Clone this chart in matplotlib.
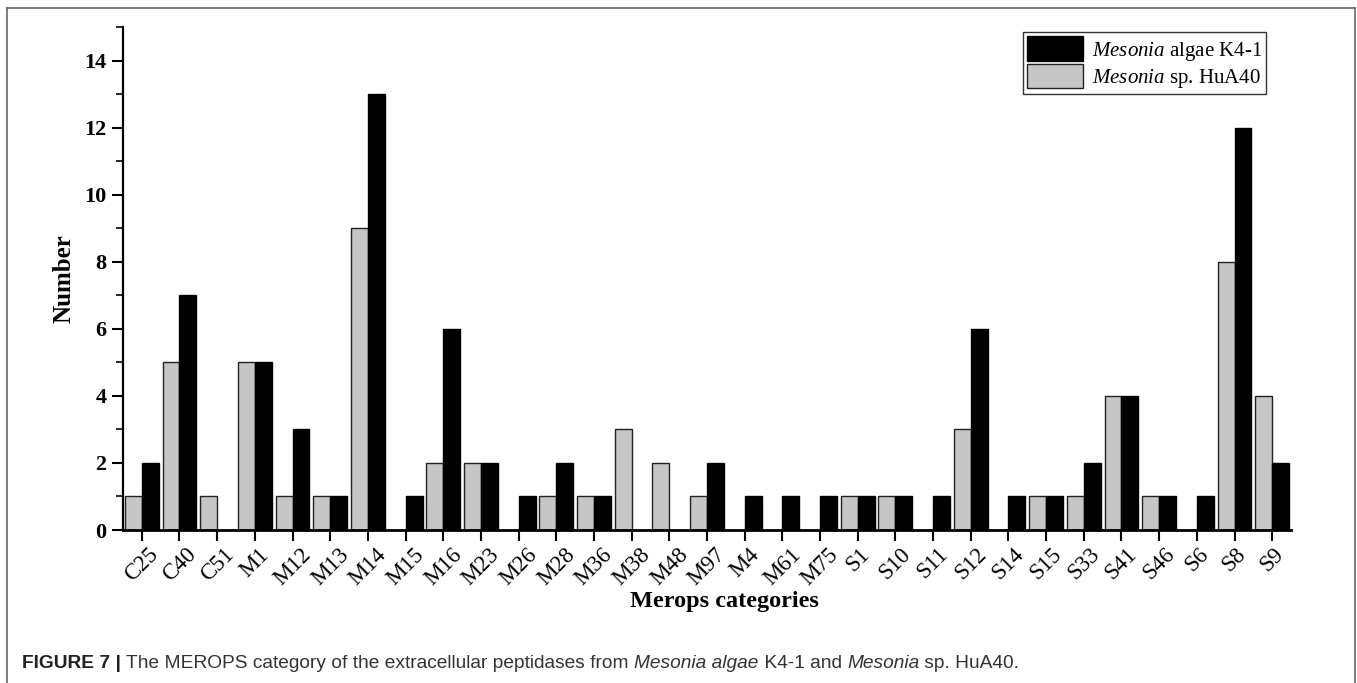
import numpy as np
import matplotlib
matplotlib.use("Agg")
import matplotlib.pyplot as plt
from matplotlib.ticker import MultipleLocator
from matplotlib.lines import Line2D

categories = ["C25", "C40", "C51", "M1", "M12", "M13", "M14", "M15", "M16", "M23",
              "M26", "M28", "M36", "M38", "M48", "M97", "M4", "M61", "M75", "S1",
              "S10", "S11", "S12", "S14", "S15", "S33", "S41", "S46", "S6", "S8", "S9"]
# Mesonia algae K4-1 (black)
k41 = [2, 7, 0, 5, 3, 1, 13, 1, 6, 2, 1, 2, 1, 0, 0, 2, 1, 1, 1, 1,
       1, 1, 6, 1, 1, 2, 4, 1, 1, 12, 2]
# Mesonia sp. HuA40 (grey)
hua40 = [1, 5, 1, 5, 1, 1, 9, 0, 2, 2, 0, 1, 1, 3, 2, 1, 0, 0, 0, 1,
         1, 0, 3, 0, 1, 1, 4, 1, 0, 8, 4]

plt.rcParams['font.family'] = ['Liberation Serif', 'DejaVu Serif']
plt.rcParams['mathtext.fontset'] = 'custom'
plt.rcParams['mathtext.rm'] = 'Liberation Serif'
plt.rcParams['mathtext.it'] = 'Liberation Serif:italic'

fig = plt.figure(figsize=(13.57, 6.83), dpi=100)
ax = fig.add_axes([0.0906, 0.224, 0.8608, 0.7363])

x = np.arange(len(categories))
w = 0.45
b2 = ax.bar(x - w / 2, hua40, w, color='#c6c6c6', edgecolor='#222222', linewidth=1.0,
            label=r'$\mathit{Mesonia}$ sp. HuA40')
b1 = ax.bar(x + w / 2, k41, w, color='black', edgecolor='black', linewidth=1.0,
            label=r'$\mathit{Mesonia}$ algae K4-1')

ax.set_xlim(-0.5, 30.5)
ax.set_ylim(0, 15)
ax.set_xticks(x)
ax.set_xticklabels(categories, rotation=45, ha='center', fontsize=16.5)
ax.yaxis.set_major_locator(MultipleLocator(2))
ax.yaxis.set_minor_locator(MultipleLocator(1))
ax.set_yticks(range(0, 15, 2))
for lab in ax.get_yticklabels():
    lab.set_fontweight('bold')
    lab.set_fontsize(16)

ax.spines['top'].set_visible(False)
ax.spines['right'].set_visible(False)
ax.spines['left'].set_linewidth(1.6)
ax.spines['bottom'].set_linewidth(2.0)
ax.tick_params(axis='y', which='major', direction='out', length=8, width=1.5, pad=4)
ax.tick_params(axis='y', which='minor', direction='out', length=5, width=1.2)
ax.tick_params(axis='x', which='major', direction='out', length=8, width=1.5, pad=2)

ax.set_ylabel('Number', fontsize=18, fontweight='bold')
ax.set_xlabel('Merops categories', fontsize=17.5, fontweight='bold')
ax.yaxis.set_label_coords(-0.041, 0.5)
ax.xaxis.set_label_coords(0.515, -0.122)

leg = ax.legend(handles=[b1, b2], loc='upper right', bbox_to_anchor=(0.9786, 0.99),
                fontsize=15, frameon=True, fancybox=False, edgecolor='black',
                handlelength=2.7, handleheight=1.45, handletextpad=0.4,
                borderpad=0.2, labelspacing=0.05, borderaxespad=0)
leg.get_frame().set_linewidth(1.0)

# outer frame of the figure panel
fw, fh = 1357.0, 683.0
frame_kw = dict(color='#666666', linewidth=1.2, transform=fig.transFigure)
fig.add_artist(Line2D([7 / fw, 7 / fw], [0, 1 - 8 / fh], **frame_kw))
fig.add_artist(Line2D([7 / fw, 1355 / fw], [1 - 8 / fh, 1 - 8 / fh], **frame_kw))
fig.add_artist(Line2D([1355 / fw, 1355 / fw], [0, 1 - 8 / fh], **frame_kw))

# caption, drawn piece by piece
cap_font = ['Liberation Sans Narrow', 'Liberation Sans', 'DejaVu Sans']
pieces = [("FIGURE 7 | ", 'bold', 'normal', '#222222'),
          ("The MEROPS category of the extracellular peptidases from ", 'normal', 'normal', '#333333'),
          ("Mesonia algae", 'normal', 'italic', '#333333'),
          (" K4-1 and ", 'normal', 'normal', '#333333'),
          ("Mesonia", 'normal', 'italic', '#333333'),
          (" sp. HuA40.", 'normal', 'normal', '#333333')]
renderer = fig.canvas.get_renderer()
xpos = 22.0
for txt, wt, st, col in pieces:
    t = fig.text(xpos / fw, 1 - 663 / fh, txt, fontsize=13.8, family=cap_font,
                 fontweight=wt, fontstyle=st, color=col, va='center', ha='left')
    bb = t.get_window_extent(renderer=renderer)
    xpos += bb.width

fig.savefig('out.png', dpi=100)
